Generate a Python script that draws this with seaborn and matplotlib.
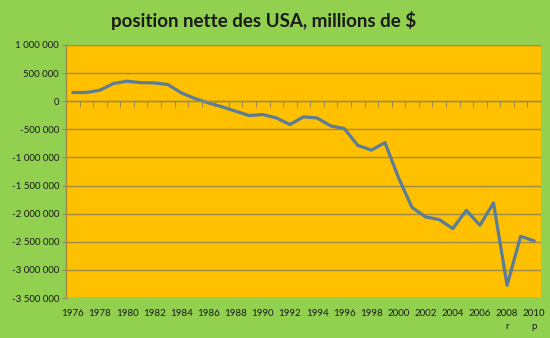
import matplotlib
matplotlib.use("Agg")
import matplotlib.pyplot as plt
import seaborn as sns
import pandas as pd
from matplotlib.ticker import FuncFormatter, FixedLocator

years = list(range(1976, 2011))
values = [155, 155, 196, 315, 356, 330, 326, 297, 148, 48,
          -30, -100, -178, -255, -237, -297, -415, -279, -297, -439,
          -486, -785, -870, -735, -1360, -1890, -2058, -2105, -2265, -1940,
          -2206, -1809, -3274, -2402, -2486]
values = [v * 1000 for v in values]
tick_years = list(range(1976, 2011, 2))
tick_labels = [str(y) for y in tick_years]
tick_labels[tick_labels.index("2008")] = "2008\nr"
tick_labels[tick_labels.index("2010")] = "2010\np"
title = "position nette des USA, millions de $"

GREEN = "#92D050"
ORANGE = "#FFC000"
GRID = "#A08C48"
LINE = "#5B7D98"
TXT = "#1a1a1a"

sns.set_style("white")
plt.rcParams["font.family"] = ["Lato", "DejaVu Sans"]

df = pd.DataFrame({"year": years, "value": values})

fig = plt.figure(figsize=(5.5, 3.38), dpi=100, facecolor=GREEN)
ax = fig.add_axes([66/550, 40/338, 475/550, 253/338])
ax.set_facecolor(ORANGE)

sns.lineplot(data=df, x="year", y="value", ax=ax, color=LINE, linewidth=2.3)

ax.set_xlim(1975.5, 2010.5)
ax.set_ylim(-3500000, 1000000)
ax.set_yticks(range(-3500000, 1000001, 500000))
ax.yaxis.set_major_formatter(FuncFormatter(lambda v, p: f"{int(v):,}".replace(",", " ")))
ax.yaxis.grid(True, color=GRID, linewidth=1.0)
ax.set_axisbelow(True)
ax.tick_params(axis="y", which="major", length=3, color=GRID, labelsize=7, labelcolor=TXT, pad=2, left=True)

for s in ["top", "right"]:
    ax.spines[s].set_visible(False)
ax.spines["left"].set_color(GRID)
ax.spines["left"].set_linewidth(1.0)
ax.spines["bottom"].set_position(("data", 0))
ax.spines["bottom"].set_color(GRID)
ax.spines["bottom"].set_linewidth(1.0)

ax.xaxis.set_major_locator(FixedLocator([y + 0.5 for y in years[:-1]]))
ax.tick_params(axis="x", which="major", length=4, color=GRID, labelbottom=False, bottom=True, direction="out")

sec = ax.secondary_xaxis("bottom")
sec.set_xticks(tick_years)
sec.set_xticklabels(tick_labels, linespacing=1.6, va="top")
sec.tick_params(length=0, labelsize=7, labelcolor=TXT, pad=8)
sec.spines["bottom"].set_visible(False)

ax.set_xlabel("")
ax.set_ylabel("")
sec.set_xlabel("")

fig.text(264/550, 1 - 20/338, title, ha="center", va="center", fontsize=13.5,
         fontweight="bold", color=TXT)

fig.savefig("out.png", dpi=100, facecolor=GREEN)
